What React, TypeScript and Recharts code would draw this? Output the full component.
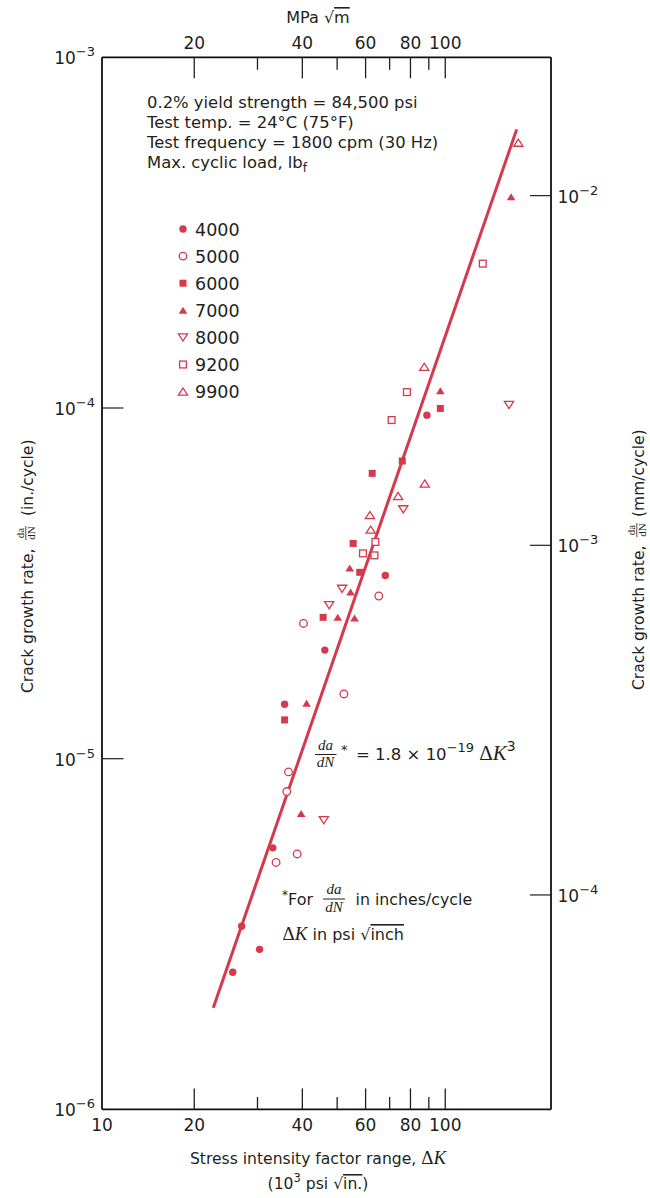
import React from 'react';
import { ComposedChart, Scatter, XAxis, YAxis, Legend } from 'recharts';

const RED = '#d5394b';
const INK = '#231f20';
const SANS = '"DejaVu Sans", Verdana, sans-serif';
const SERIF = '"Liberation Serif", "DejaVu Serif", serif';

// Categories: max cyclic load, lbf
const loads = ['4000', '5000', '6000', '7000', '8000', '9200', '9900'];

// [ΔK (10^3 psi√in.), da/dN (in./cycle)]
const load4000 = [[88.9, 9.54e-5], [68.1, 3.33e-5], [46.2, 2.04e-5], [35.7, 1.43e-5], [33.1, 5.57e-6], [27.1, 3.33e-6], [30.4, 2.86e-6], [25.6, 2.46e-6]];
const load5000 = [[65.3, 2.91e-5], [40.3, 2.43e-5], [52.2, 1.53e-5], [36.6, 9.17e-6], [36.2, 8.06e-6], [38.7, 5.35e-6], [33.8, 5.06e-6]];
const load6000 = [[96.9, 9.97e-5], [75.9, 7.06e-5], [62.6, 6.51e-5], [55.4, 4.11e-5], [57.8, 3.40e-5], [45.7, 2.53e-5], [35.7, 1.29e-5]];
const load7000 = [[152.5, 4.0e-4], [96.9, 1.12e-4], [54.2, 3.5e-5], [54.5, 2.99e-5], [50.2, 2.53e-5], [55.9, 2.52e-5], [41.1, 1.44e-5], [39.7, 6.98e-6]];
const load8000 = [[150.5, 1.02e-4], [76.4, 5.14e-5], [51.6, 3.05e-5], [47.5, 2.74e-5], [45.9, 6.68e-6]];
const load9200 = [[127.2, 2.58e-4], [78.2, 1.11e-4], [70.9, 9.24e-5], [63.9, 4.15e-5], [59.0, 3.85e-5], [63.5, 3.8e-5]];
const load9900 = [[159.8, 5.71e-4], [87.4, 1.31e-4], [87.7, 6.09e-5], [73.9, 5.61e-5], [61.7, 4.95e-5], [62.0, 4.5e-5]];
// fitted line da/dN = 1.8e-19 ΔK^3 (end points as drawn)
const fitLine = [[22.6, 1.95e-6], [158.1, 6.23e-4]];

// Axes
const xDomain = [11.07, 197];
const xTicks = [11.07, 20, 30, 40, 50, 60, 70, 80, 90, 100];
const xBottomLabels = ['10', '20', '', '40', '', '60', '', '80', '', '100'];
const xTopLabels = ['', '20', '', '40', '', '60', '', '80', '', '100'];
const xMajor = [20, 40, 60, 80, 100];
const yLeftDomain = [1e-6, 1e-3];
const yLeftTicks = [1e-6, 1e-5, 1e-4, 1e-3];
const yLeftExp = ['−6', '−5', '−4', '−3'];
const yRightDomain = [2.436e-5, 0.02487];
const yRightTicks = [1e-4, 1e-3, 1e-2];
const yRightExp = ['−4', '−3', '−2'];

type Kind = 'fc' | 'oc' | 'fs' | 'fu' | 'od' | 'os' | 'ou';
const kinds: Kind[] = ['fc', 'oc', 'fs', 'fu', 'od', 'os', 'ou'];
const seriesData = [load4000, load5000, load6000, load7000, load8000, load9200, load9900];

const toPts = (arr: number[][]) => arr.map(([k, r]) => ({ k, r }));

function Marker({ kind, cx, cy }: { kind: Kind; cx: number; cy: number }) {
  if (cx == null || cy == null) return null;
  switch (kind) {
    case 'fc':
      return <circle cx={cx} cy={cy} r={3.7} fill={RED} />;
    case 'oc':
      return <circle cx={cx} cy={cy} r={3.8} fill="#fff" stroke={RED} strokeWidth={1.3} />;
    case 'fs':
      return <rect x={cx - 3.5} y={cy - 3.5} width={7} height={7} fill={RED} />;
    case 'os':
      return <rect x={cx - 3.4} y={cy - 3.4} width={6.8} height={6.8} fill="#fff" stroke={RED} strokeWidth={1.3} />;
    case 'fu': {
      const w = 4.3, h = 3.5;
      return <polygon points={`${cx},${cy - h} ${cx + w},${cy + h} ${cx - w},${cy + h}`} fill={RED} />;
    }
    case 'ou': {
      const w = 4.6, h = 3.6;
      return <polygon points={`${cx},${cy - h} ${cx + w},${cy + h} ${cx - w},${cy + h}`} fill="#fff" stroke={RED} strokeWidth={1.3} />;
    }
    case 'od': {
      const w = 4.6, h = 3.6;
      return <polygon points={`${cx},${cy + h} ${cx + w},${cy - h} ${cx - w},${cy - h}`} fill="#fff" stroke={RED} strokeWidth={1.3} />;
    }
  }
  return null;
}

const BottomTick = (p: any) => {
  const { x, y, payload } = p;
  const v = payload.value;
  const i = xTicks.indexOf(v);
  const len = i === 0 ? 0 : xMajor.includes(v) ? 21 : 12.5;
  return (
    <g>
      {len > 0 && <line x1={x} x2={x} y1={y} y2={y - len} stroke={INK} strokeWidth={1.3} />}
      <text x={x} y={y + 22} textAnchor="middle" fontFamily={SANS} fontSize={17} fill={INK}>{xBottomLabels[i]}</text>
    </g>
  );
};

const TopTick = (p: any) => {
  const { x, y, payload } = p;
  const v = payload.value;
  const i = xTicks.indexOf(v);
  const len = i === 0 ? 0 : xMajor.includes(v) ? 21 : 12.5;
  return (
    <g>
      {len > 0 && <line x1={x} x2={x} y1={y} y2={y + len} stroke={INK} strokeWidth={1.3} />}
      <text x={x} y={y - 8} textAnchor="middle" fontFamily={SANS} fontSize={17} fill={INK}>{xTopLabels[i]}</text>
    </g>
  );
};

const LeftTick = (p: any) => {
  const { x, y, payload } = p;
  const i = yLeftTicks.indexOf(payload.value);
  const inner = i === 1 || i === 2;
  return (
    <g>
      {inner && <line x1={x} x2={x + 21.5} y1={y} y2={y} stroke={INK} strokeWidth={1.2} />}
      <text x={x - 7} y={y + 7} textAnchor="end" fontFamily={SANS} fontSize={17} fill={INK}>
        10<tspan fontSize={13} dy={-8}>{yLeftExp[i]}</tspan>
      </text>
    </g>
  );
};

const RightTick = (p: any) => {
  const { x, y, payload } = p;
  const i = yRightTicks.indexOf(payload.value);
  return (
    <g>
      <line x1={x} x2={x - 21} y1={y} y2={y} stroke={INK} strokeWidth={1.2} />
      <text x={x + 6.5} y={y + 7} textAnchor="start" fontFamily={SANS} fontSize={17} fill={INK}>
        10<tspan fontSize={13} dy={-8}>{yRightExp[i]}</tspan>
      </text>
    </g>
  );
};

const renderLegend = () => (
  <svg width={90} height={200} style={{ overflow: 'visible', display: 'block' }}>
    {loads.map((l, i) => (
      <g key={l}>
        <Marker kind={kinds[i]} cx={8} cy={12 + i * 27.1} />
        <text x={20} y={12 + i * 27.1 + 6.5} fontFamily={SANS} fontSize={17.5} fill={INK}>{l}</text>
      </g>
    ))}
  </svg>
);

const Overlay = () => (
  <svg width={650} height={1198} style={{ position: 'absolute', left: 0, top: 0, pointerEvents: 'none' }}>
    {/* top axis title */}
    <text x={318} y={23} textAnchor="middle" fontFamily={SANS} fontSize={16} fill={INK}>
      MPa √<tspan style={{ textDecoration: 'overline' }}>m</tspan>
    </text>
    {/* conditions */}
    <g fontFamily={SANS} fontSize={16.4} fill={INK}>
      <text x={147} y={108}>0.2% yield strength = 84,500 psi</text>
      <text x={147} y={128}>Test temp. = 24°C (75°F)</text>
      <text x={147} y={148}>Test frequency = 1800 cpm (30 Hz)</text>
      <text x={147} y={168}>Max. cyclic load, lb<tspan fontSize={12} dy={4}>f</tspan></text>
    </g>
    {/* equation */}
    <g fill={INK}>
      <text x={325.5} y={750} textAnchor="middle" fontFamily={SERIF} fontStyle="italic" fontSize={15}>da</text>
      <line x1={315} x2={336.5} y1={754.5} y2={754.5} stroke={INK} strokeWidth={1} />
      <text x={325.5} y={767} textAnchor="middle" fontFamily={SERIF} fontStyle="italic" fontSize={15}>dN</text>
      <text x={341} y={754} fontFamily={SANS} fontSize={13}>*</text>
      <text x={356} y={759.5} fontFamily={SANS} fontSize={16.5}>
        = 1.8 × 10<tspan fontSize={13} dy={-8}>−19</tspan>
        <tspan dy={8}> </tspan>
        <tspan fontFamily={SERIF} fontSize={21}>Δ</tspan>
        <tspan fontFamily={SERIF} fontStyle="italic" fontSize={21}>K</tspan>
        <tspan fontSize={14} dy={-9}>3</tspan>
      </text>
    </g>
    {/* footnote */}
    <g fill={INK}>
      <text x={282} y={899} fontFamily={SANS} fontSize={12}>*</text>
      <text x={288} y={905} fontFamily={SANS} fontSize={16}>For</text>
      <text x={334} y={894} textAnchor="middle" fontFamily={SERIF} fontStyle="italic" fontSize={15}>da</text>
      <line x1={323} x2={345} y1={899} y2={899} stroke={INK} strokeWidth={1} />
      <text x={334} y={911.5} textAnchor="middle" fontFamily={SERIF} fontStyle="italic" fontSize={15}>dN</text>
      <text x={355.5} y={905} fontFamily={SANS} fontSize={15.8}>in inches/cycle</text>
      <text x={282.5} y={940} fontFamily={SANS} fontSize={16}>
        <tspan fontFamily={SERIF} fontSize={19}>Δ</tspan>
        <tspan fontFamily={SERIF} fontStyle="italic" fontSize={19}>K</tspan>
        {' in psi  √'}
        <tspan style={{ textDecoration: 'overline' }}>inch</tspan>
      </text>
    </g>
    {/* bottom axis title */}
    <text x={318} y={1164} textAnchor="middle" fontFamily={SANS} fontSize={15.6} fill={INK}>
      Stress intensity factor range, <tspan fontFamily={SERIF} fontSize={19}>Δ</tspan>
      <tspan fontFamily={SERIF} fontStyle="italic" fontSize={19}>K</tspan>
    </text>
    <text x={318} y={1189} textAnchor="middle" fontFamily={SANS} fontSize={15.6} fill={INK}>
      (10<tspan fontSize={11.5} dy={-7}>3</tspan><tspan dy={7}> psi √</tspan>
      <tspan style={{ textDecoration: 'overline' }}>in.</tspan>)
    </text>
    {/* left axis title */}
    <g transform="translate(33,693) rotate(-90)" fill={INK}>
      <text x={0} y={0} fontFamily={SANS} fontSize={15.5}>Crack growth rate,</text>
      <text x={160} y={-9.5} textAnchor="middle" fontFamily={SERIF} fontSize={11}>da</text>
      <line x1={153} x2={167} y1={-7.2} y2={-7.2} stroke={INK} strokeWidth={0.8} />
      <text x={160} y={1.5} textAnchor="middle" fontFamily={SERIF} fontSize={11}>dN</text>
      <text x={177} y={0} fontFamily={SANS} fontSize={15.5}>(in./cycle)</text>
    </g>
    {/* right axis title */}
    <g transform="translate(644,690) rotate(-90)" fill={INK}>
      <text x={0} y={0} fontFamily={SANS} fontSize={15.5}>Crack growth rate,</text>
      <text x={160} y={-9.5} textAnchor="middle" fontFamily={SERIF} fontSize={11}>da</text>
      <line x1={153} x2={167} y1={-7.2} y2={-7.2} stroke={INK} strokeWidth={0.8} />
      <text x={160} y={1.5} textAnchor="middle" fontFamily={SERIF} fontSize={11}>dN</text>
      <text x={173} y={0} fontFamily={SANS} fontSize={15.5}>(mm/cycle)</text>
    </g>
  </svg>
);

export default function App() {
  return (
    <div style={{ position: 'absolute', left: 0, top: 0, width: 650, height: 1198, background: '#fff' }}>
      <ComposedChart width={650} height={1198} margin={{ top: 27, right: 59, bottom: 48.6, left: 62 }}>
        <XAxis
          xAxisId="bottom" orientation="bottom" type="number" scale="log" dataKey="k"
          domain={xDomain} allowDataOverflow ticks={xTicks} interval={0} height={40}
          tickSize={0} tickMargin={0} tickLine={false}
          axisLine={{ stroke: '#111', strokeWidth: 1.8 }} tick={(p: any) => <BottomTick {...p} />}
        />
        <XAxis
          xAxisId="top" orientation="top" type="number" scale="log" dataKey="k"
          domain={xDomain} allowDataOverflow ticks={xTicks} interval={0} height={30.3}
          tickSize={0} tickMargin={0} tickLine={false}
          axisLine={{ stroke: '#111', strokeWidth: 1.8 }} tick={(p: any) => <TopTick {...p} />}
        />
        <YAxis
          yAxisId="left" orientation="left" type="number" scale="log" dataKey="r"
          domain={yLeftDomain} allowDataOverflow ticks={yLeftTicks} interval={0} width={40}
          tickSize={0} tickMargin={0} tickLine={false}
          axisLine={{ stroke: '#111', strokeWidth: 1.8 }} tick={(p: any) => <LeftTick {...p} />}
        />
        <YAxis
          yAxisId="right" orientation="right" type="number" scale="log" dataKey="r"
          domain={yRightDomain} allowDataOverflow ticks={yRightTicks} interval={0} width={40}
          tickSize={0} tickMargin={0} tickLine={false}
          axisLine={{ stroke: '#111', strokeWidth: 1.8 }} tick={(p: any) => <RightTick {...p} />}
        />
        <Scatter
          name="fit" data={toPts(fitLine)} xAxisId="bottom" yAxisId="left"
          line={{ stroke: RED, strokeWidth: 3 }} shape={() => <g />}
          isAnimationActive={false} legendType="none"
        />
        {seriesData.map((d, i) => (
          <Scatter
            key={loads[i]} name={loads[i]} data={toPts(d)} xAxisId="bottom" yAxisId="left"
            shape={(p: any) => <Marker kind={kinds[i]} cx={p.cx} cy={p.cy} />}
            isAnimationActive={false}
          />
        ))}
        <Legend
          layout="vertical" align="center" verticalAlign="middle"
          content={renderLegend}
          wrapperStyle={{ left: 175, top: 217, width: 90, height: 200 }}
        />
      </ComposedChart>
      <Overlay />
    </div>
  );
}
